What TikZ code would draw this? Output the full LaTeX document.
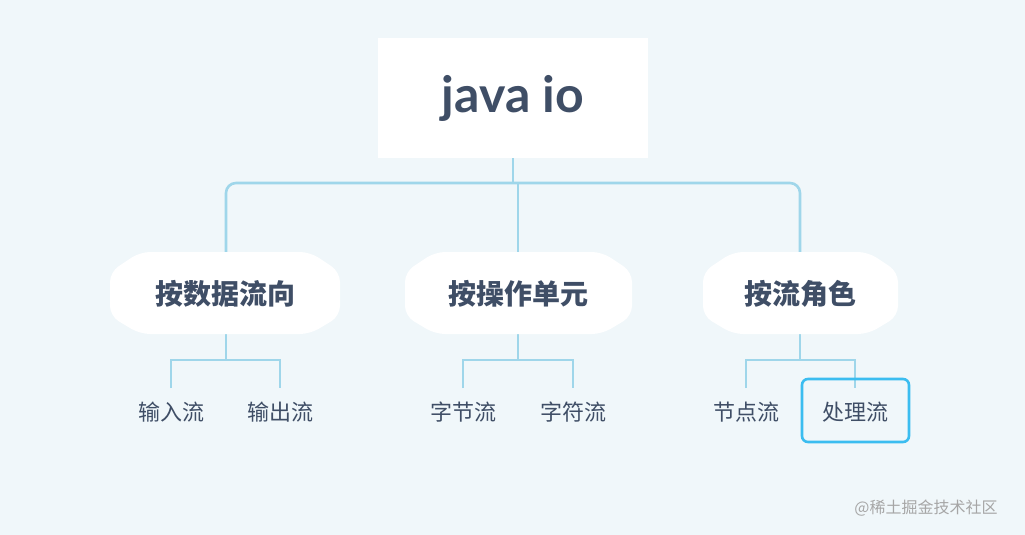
\documentclass[tikz,border=0pt]{standalone}
\usepackage{fontspec}
\setmainfont{Lato}
\newfontfamily\cjk{Noto Sans CJK SC}
\definecolor{bg}{HTML}{F0F7FA}
\definecolor{txt}{HTML}{3F4E66}
\definecolor{ln}{HTML}{9FD6EA}
\definecolor{hl}{HTML}{3BBDF0}
\begin{document}
\begin{tikzpicture}[x=1pt,y=-1pt,
  conn/.style={draw=ln,line width=2.6pt,rounded corners=10pt},
  leaf/.style={font=\cjk\fontsize{22}{24}\selectfont,text=txt,inner sep=0pt},
  mid/.style={font=\cjk\bfseries\fontsize{28}{30}\selectfont,text=txt,inner sep=0pt}]
\fill[bg] (0,0) rectangle (1025,535);
\useasboundingbox (0,0) rectangle (1025,535);
% connectors
\draw[conn] (513,158) -- (513,183);
\draw[conn] (226,252) -- (226,183) -- (800,183) -- (800,252);
\draw[conn] (518,183) -- (518,252);
\foreach \c/\a/\b in {226/171/280, 518/463/573, 800/746/855}{
  \draw[conn,rounded corners=0pt] (\c,334) -- (\c,360);
  \draw[conn,rounded corners=0pt] (\a,388) -- (\a,360) -- (\b,360) -- (\b,388);
}
% root
\node[fill=white,minimum width=270pt,minimum height=120pt,inner sep=0pt,text=txt,
  font=\bfseries\fontsize{50}{52}\selectfont] (root) at (513,98) {java io};
% blobs
\foreach \l/\r in {110/340, 405/632, 703/898}{
  \fill[white,rounded corners=10pt] (\l,272) -- (\l+30,252) -- (\r-30,252) -- (\r,272) -- (\r,316) -- (\r-30,334) -- (\l+30,334) -- (\l,316) -- cycle;
}
\node[mid] (a) at (225,294) {按数据流向};
\node[mid] (b) at (518,294) {按操作单元};
\node[mid] (c) at (800,294) {按流角色};
% leaves
\node[leaf] (a1) at (171,412) {输入流};
\node[leaf] (a2) at (280,412) {输出流};
\node[leaf] (b1) at (463,412) {字节流};
\node[leaf] (b2) at (573,412) {字符流};
\node[leaf] (c1) at (746,412) {节点流};
\draw[hl,line width=2.6pt,rounded corners=6pt] (802,379) rectangle (909,442);
\node[leaf] (c2) at (855,412) {处理流};
\node[font=\cjk\fontsize{16}{18}\selectfont,text=gray!70,inner sep=0pt] (wm) at (926,508) {@稀土掘金技术社区};
\end{tikzpicture}
\end{document}
